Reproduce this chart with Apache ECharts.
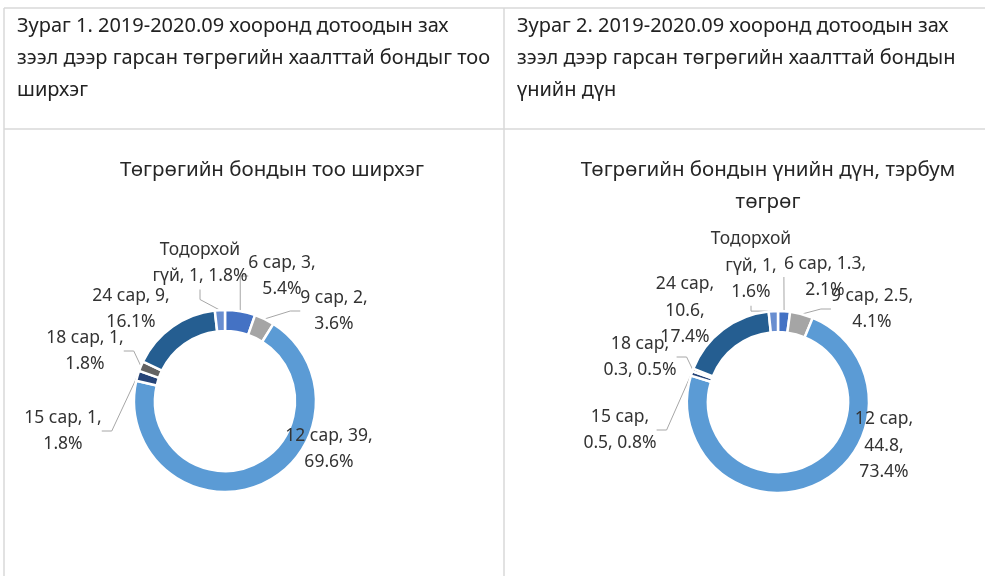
<!DOCTYPE html>
<html>
<head>
<meta charset="utf-8">
<script src="https://cdn.jsdelivr.net/npm/echarts@6/dist/echarts.min.js"></script>
<style>
html, body { margin: 0; padding: 0; background: #fff; }
#main { width: 985px; height: 576px; }
</style>
</head>
<body>
<div id="main"></div>
<script>
'use strict';

// ангилал (цагийн зүүний дагуу, дээрээс)
var categories = ['6 сар', '9 сар', '12 сар', '15 сар', '18 сар', '24 сар', 'Тодорхой гүй'];
// Зураг 1: ширхэг
var countValues = [3, 2, 39, 1, 1, 9, 1];
// Зураг 2: үнийн дүн, тэрбум төгрөг
var amountValues = [1.3, 2.5, 44.8, 0.5, 0.3, 10.6, 1];

var colors = ['#4472C4', '#A5A5A5', '#5B9BD5', '#264478', '#636363', '#255E91', '#698ED0'];
var font = 'Noto Sans';

// шошгын мөр таслалт (мөр бүрт хэдэн үг)
var wrap1 = [[3, 1], [3, 1], [3, 1], [3, 1], [3, 1], [3, 1], [1, 3]];
var wrap2 = [[3, 1], [3, 1], [2, 1, 1], [2, 2], [2, 2], [2, 1, 1], [1, 2, 1]];
// шошгын төв цэг
var lblPos1 = [[282, 276], [334, 311], [329, 449], [63, 431], [85, 351], [131, 309], [200, 263]];
var lblPos2 = [[825, 277], [872, 309], [884, 446], [620, 430], [640, 357], [685, 311], [751, 266]];
var noLine = ['12 сар', '24 сар'];

function labelText(p, wrap) {
    var words = (p.name + ', ' + p.value + ', ' + p.percent.toFixed(1) + '%').split(' ');
    var lines = [], k = 0;
    wrap[p.dataIndex].forEach(function (n) {
        lines.push(words.slice(k, k + n).join(' '));
        k += n;
    });
    return lines.join('\n');
}

function makeData(vals) {
    return categories.map(function (c, i) {
        return { name: c, value: vals[i], labelLine: { show: noLine.indexOf(c) < 0 } };
    });
}

function pieSeries(vals, wrap, pos, center) {
    return {
        type: 'pie',
        center: center,
        radius: [70, 91],
        startAngle: 90,
        clockwise: true,
        avoidLabelOverlap: false,
        itemStyle: { borderColor: '#fff', borderWidth: 2.5 },
        label: {
            show: true,
            position: 'outside',
            formatter: function (p) { return labelText(p, wrap); },
            fontFamily: font,
            fontSize: 17.5,
            lineHeight: 26.5,
            color: '#333',
            align: 'center'
        },
        labelLine: { show: true, length: 8, length2: 10, lineStyle: { color: '#A6A6A6', width: 1 } },
        labelLayout: function (params) {
            var xy = pos[params.dataIndex];
            return { x: xy[0], y: xy[1], align: 'center', verticalAlign: 'middle', hideOverlap: false };
        },
        emphasis: { disabled: true },
        data: makeData(vals)
    };
}

var chart = echarts.init(document.getElementById('main'), null, { renderer: 'canvas' });

var lineStyle = { stroke: '#D9D9D9', lineWidth: 1.5 };
var headStyle = { fontFamily: font, fontSize: 20, fontWeight: 'normal', color: '#222', lineHeight: 32 };
var titleStyle = { fontFamily: font, fontSize: 20.5, fontWeight: 'normal', color: '#262626', lineHeight: 32 };

var option = {
    animation: false,
    color: colors,
    title: [
        {
            text: 'Зураг 1. 2019-2020.09 хооронд дотоодын зах\nзээл дээр гарсан төгрөгийн хаалттай бондыг тоо\nширхэг',
            left: 12, top: 5, textStyle: headStyle
        },
        {
            text: 'Зураг 2. 2019-2020.09 хооронд дотоодын зах\nзээл дээр гарсан төгрөгийн хаалттай бондын\nүнийн дүн',
            left: 512, top: 5, textStyle: headStyle
        },
        {
            text: 'Төгрөгийн бондын тоо ширхэг',
            left: 267, top: 149, textAlign: 'center', textStyle: titleStyle
        },
        {
            text: 'Төгрөгийн бондын үнийн дүн, тэрбум\nтөгрөг',
            left: 763, top: 149, textAlign: 'center', textStyle: titleStyle
        }
    ],
    graphic: [
        { type: 'line', shape: { x1: 4, y1: 8, x2: 985, y2: 8 }, style: lineStyle, silent: true },
        { type: 'line', shape: { x1: 4, y1: 129, x2: 985, y2: 129 }, style: lineStyle, silent: true },
        { type: 'line', shape: { x1: 4, y1: 8, x2: 4, y2: 576 }, style: lineStyle, silent: true },
        { type: 'line', shape: { x1: 504, y1: 8, x2: 504, y2: 576 }, style: lineStyle, silent: true }
    ],
    series: [
        pieSeries(countValues, wrap1, lblPos1, [225, 401]),
        pieSeries(amountValues, wrap2, lblPos2, [778, 402])
    ]
};

chart.setOption(option);
</script>
</body>
</html>
